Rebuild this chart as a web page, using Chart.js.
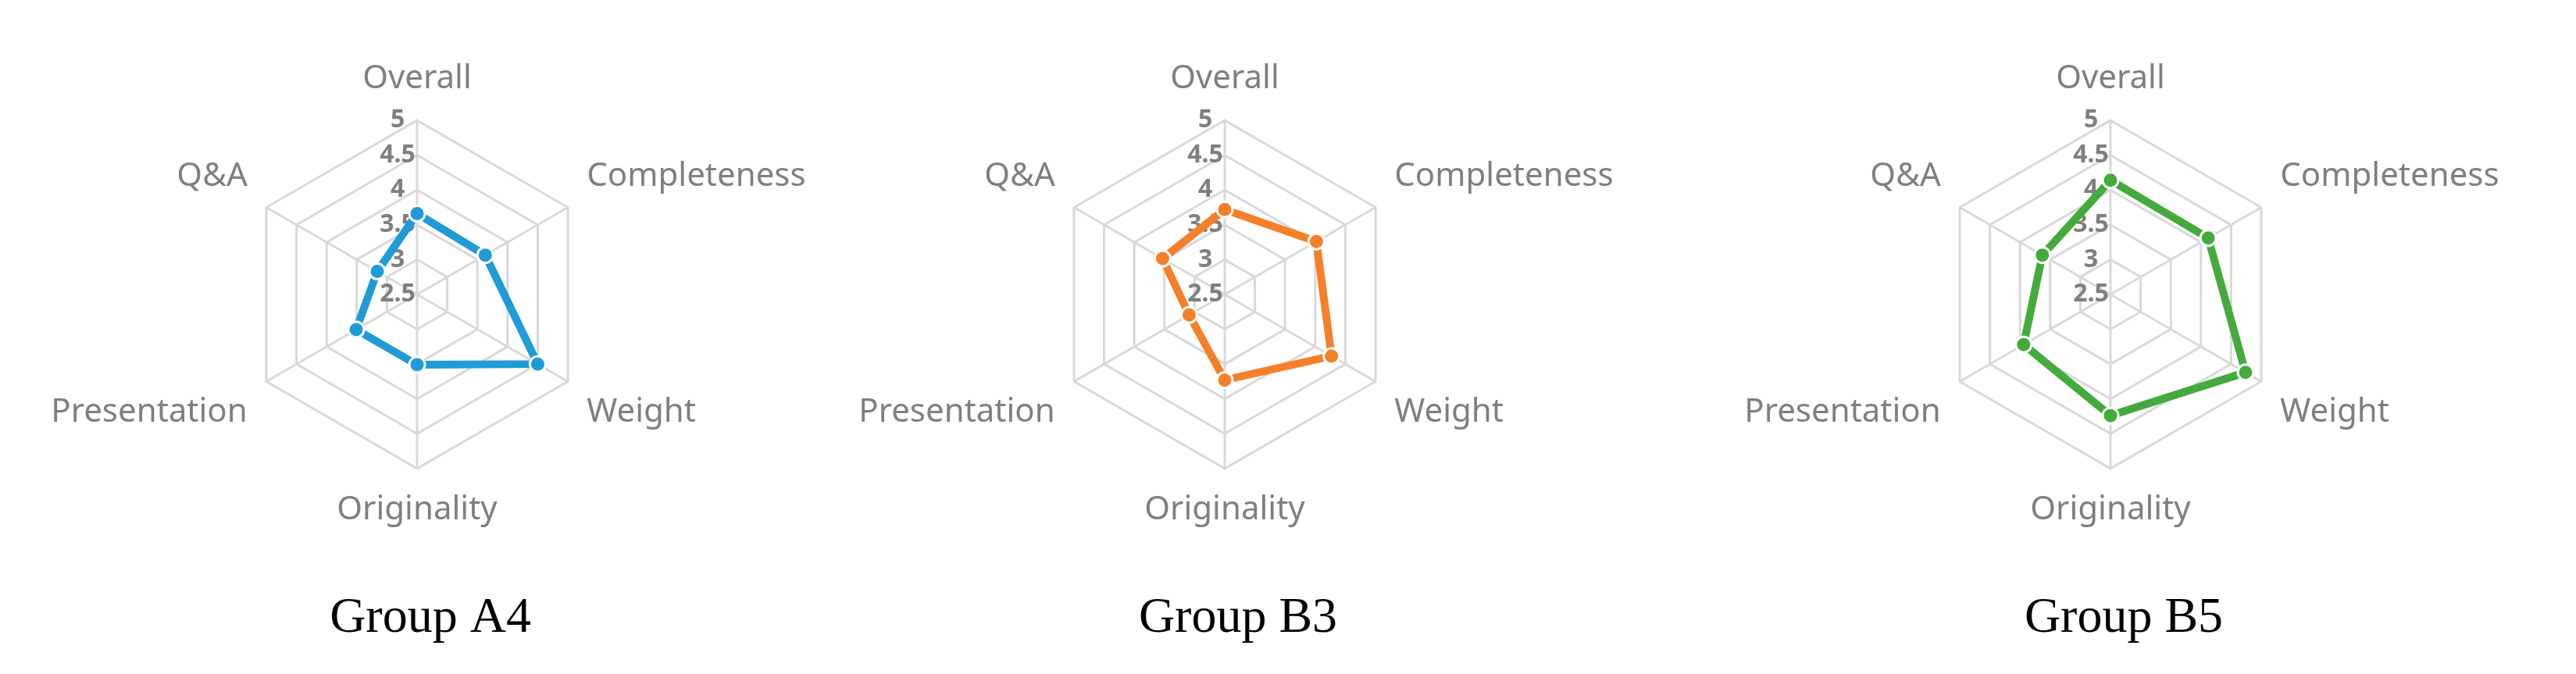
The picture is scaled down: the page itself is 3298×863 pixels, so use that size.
<!DOCTYPE html>
<html>
<head>
<meta charset="utf-8">
<script src="https://cdn.jsdelivr.net/npm/chart.js@4/dist/chart.umd.min.js"></script>
<style>
  body { margin: 0; background: #fff; width: 3298px; height: 863px; position: relative; overflow: hidden; }
  canvas { position: absolute; top: 0; }
</style>
</head>
<body>
<canvas id="cA4" style="left:51px"></canvas>
<canvas id="cB3" style="left:1085px"></canvas>
<canvas id="cB5" style="left:2219px"></canvas>
<script>
const criteria = ['Overall', 'Completeness', 'Weight', 'Originality', 'Presentation', 'Q&A'];
const groupA4 = [3.66, 3.63, 4.5, 3.51, 3.51, 3.16];
const groupB3 = [3.72, 4.02, 4.27, 3.73, 3.09, 3.53];
const groupB5 = [4.14, 4.12, 4.74, 4.24, 3.94, 3.63];

function drawRadar(id, title, values, color) {
  const el = document.getElementById(id);
  el.width = 1000;
  el.height = 863;
  el.style.width = '1000px';
  el.style.height = '863px';
  new Chart(el.getContext('2d'), {
    type: 'radar',
    data: {
      labels: criteria,
      datasets: [{
        data: values,
        borderColor: color,
        backgroundColor: 'transparent',
        borderWidth: 10,
        pointRadius: 10,
        pointBackgroundColor: color,
        pointBorderColor: '#fff',
        pointBorderWidth: 3
      }]
    },
    options: {
      responsive: false,
      animation: false,
      layout: { padding: { top: 20, bottom: 10 } },
      plugins: {
        legend: { display: false },
        tooltip: { enabled: false },
        title: {
          display: true,
          position: 'bottom',
          text: title,
          color: '#000',
          font: { family: 'Liberation Serif', size: 64, weight: 'normal' },
          padding: { top: 20, bottom: 22 }
        }
      },
      scales: {
        r: {
          min: 2.5,
          max: 5,
          // the first tick label is never drawn, so repeat the centre value
          afterBuildTicks: axis => { axis.ticks = [{ value: 2.5 }, ...axis.ticks]; },
          ticks: {
            stepSize: 0.5,
            showLabelBackdrop: false,
            color: '#7f7f7f',
            font: { family: 'Noto Sans', size: 32, weight: 'bold' },
            callback: v => v + '      '
          },
          grid: { color: '#d9d9d9', lineWidth: 3 },
          angleLines: { color: '#d9d9d9', lineWidth: 3 },
          pointLabels: {
            color: '#7f7f7f',
            font: { family: 'Noto Sans', size: 42 },
            padding: 10
          }
        }
      }
    }
  });
}

drawRadar('cA4', 'Group A4', groupA4, '#1f9bd7');
drawRadar('cB3', 'Group B3', groupB3, '#f5802a');
drawRadar('cB5', 'Group B5', groupB5, '#44aa3c');
</script>
</body>
</html>
